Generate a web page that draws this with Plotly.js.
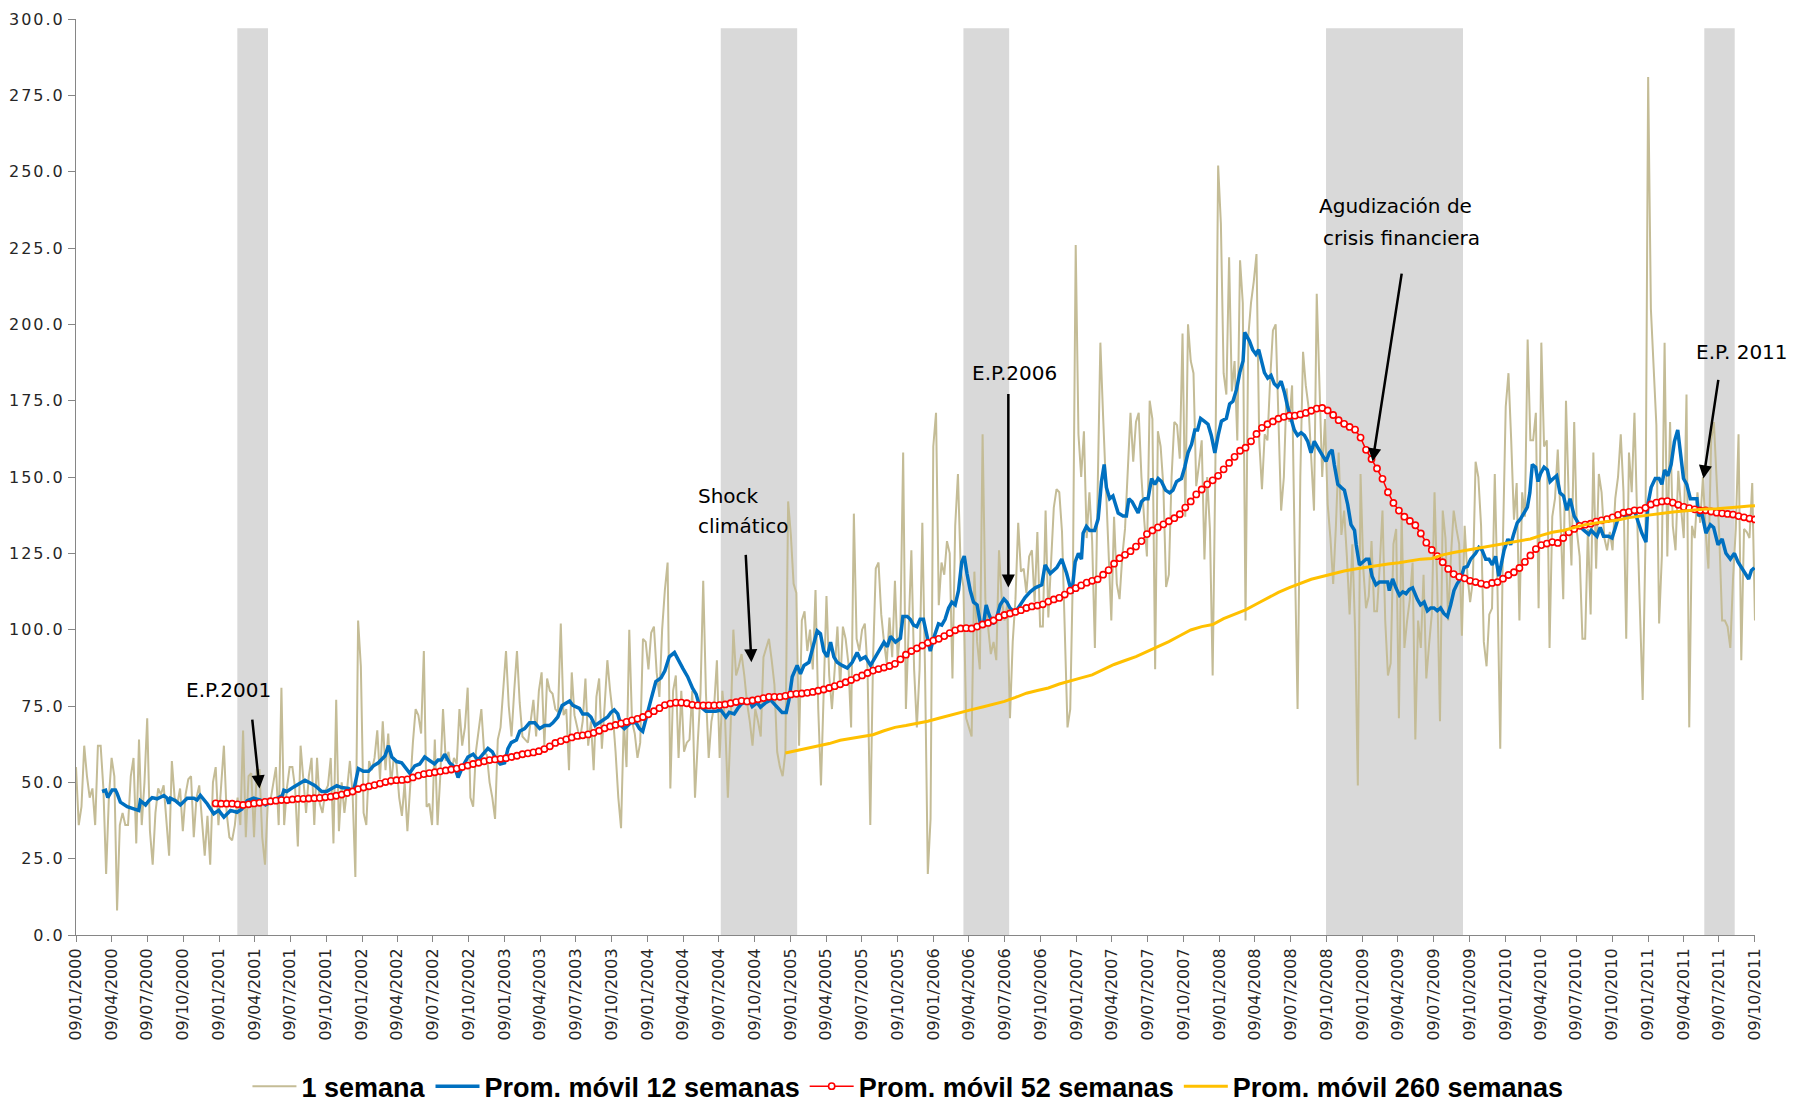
<!DOCTYPE html>
<html><head><meta charset="utf-8">
<script src="https://cdn.plot.ly/plotly-3.0.1.min.js"></script>
<style>
html,body{margin:0;padding:0;background:#fff}
#chart{width:1793px;height:1104px}
#chart .ytick text{letter-spacing:2px}
</style>
</head><body><div id="chart"></div>
<script>
// ---------- DATA ----------
const startDate = [2000, 0, 9]; // 09/01/2000, weekly observations
const lastWeek = 613;           // 09/10/2011

const seriesNames = ['1 semana', 'Prom. móvil 12 semanas', 'Prom. móvil 52 semanas', 'Prom. móvil 260 semanas'];

// weekly values (week 0 .. 613)
const weekly = [
55,36,42,62,52,45,48,36,62,62,
48,20,45,58,52,8,36,40,36,36,
52,58,30,64,36,50,71,34,23,40,
48,46,49,38,26,57,45,43,48,34,
46,51,52,32,45,49,38,26,39,23,
50,55,36,50,62,40,32,31,36,45,
36,67,32,52,53,32,54,54,32,23,
43,44,49,55,36,81,36,48,55,55,
48,29,62,50,40,52,58,36,58,43,
40,47,49,58,30,77,34,50,40,48,
57,46,19,103,88,40,36,57,54,58,
67,51,70,54,66,49,58,56,45,39,
50,34,50,63,74,72,66,93,42,43,
36,64,36,52,74,57,60,53,58,56,
74,62,68,81,45,42,60,68,74,60,
59,50,45,38,64,68,80,93,75,65,
80,93,76,65,64,63,70,77,65,80,
86,62,84,80,79,74,73,102,72,74,
54,86,72,68,64,70,84,62,70,54,
78,84,61,75,90,80,72,60,45,35,
70,55,100,70,66,58,63,97,96,87,
99,101,86,78,100,113,122,48,80,85,
58,80,60,63,64,80,45,63,79,116,
79,58,70,75,90,58,80,70,45,68,
100,85,88,92,85,76,70,62,74,70,
65,91,94,97,90,82,60,55,52,60,
142,131,115,112,62,103,106,93,100,87,
113,74,49,82,111,85,74,87,101,81,
101,97,89,68,138,97,93,100,102,87,
36,90,120,122,105,96,89,104,91,116,
90,101,158,74,100,126,87,68,87,135,
86,20,38,160,171,108,122,118,129,125,
84,134,151,120,114,71,68,65,119,96,
87,164,110,102,92,96,90,126,110,103,
108,71,96,110,135,119,120,112,124,126,
109,132,101,101,139,104,120,140,146,145,
132,103,68,74,120,226,164,150,165,130,
145,129,94,145,194,170,148,128,103,137,
115,110,124,133,150,171,155,168,171,150,
136,124,175,169,87,165,160,147,114,118,
150,168,167,156,197,137,200,188,184,147,
154,162,123,150,133,85,154,252,233,184,
177,222,178,188,162,221,207,103,196,207,
214,223,162,146,164,162,182,198,200,173,
139,150,179,168,180,124,74,150,191,180,
173,156,139,210,177,150,169,141,130,115,
134,158,131,139,124,105,128,100,49,151,
120,107,111,129,106,106,121,139,103,85,
89,128,133,71,138,94,103,110,122,64,
103,94,118,84,95,105,145,114,70,139,
130,103,124,139,133,128,98,134,118,109,
116,155,150,134,96,88,105,107,151,113,
61,130,173,184,162,136,148,103,145,137,
195,162,162,171,107,194,160,162,94,137,
143,159,137,110,175,143,121,168,132,124,
97,97,133,105,158,120,151,145,130,126,
132,126,143,150,164,145,97,158,145,171,
136,105,77,128,281,205,184,167,102,124,
194,124,168,134,126,152,140,130,177,68,
134,130,145,135,150,132,120,162,168,150,
130,103,103,101,94,117,133,164,90,133,
132,130,148,103
];

// 12-week moving average, read as [week, value]
const ma12Pairs = [
[9.5,47.0],[10.8,47.4],[11.6,45.0],[13.2,47.5],[14.4,47.5],[15.0,46.4],[16.2,43.5],[18.7,42.0],[21.1,41.3],[22.9,40.8],
[23.5,44.0],[25.4,42.6],[26.6,44.0],[27.8,45.0],[29.6,44.6],[32.1,45.7],[33.3,44.8],[33.9,43.0],[34.5,44.8],[36.3,44.0],
[38.1,42.6],[40.6,44.8],[43.0,44.8],[44.2,44.2],[45.4,45.7],[47.9,43.0],[50.3,39.7],[52.1,40.8],[54.0,38.6],[56.4,40.8],
[58.8,40.2],[60.6,41.3],[62.5,44.0],[64.9,44.8],[67.3,44.2],[69.2,42.6],[71.0,43.5],[73.4,44.8],[75.3,45.7],[75.9,47.4],
[77.0,47.0],[79.5,48.5],[81.3,49.6],[83.6,50.7],[85.5,49.8],[87.3,48.9],[89.7,47.0],[91.5,47.0],[93.4,48.0],[95.2,48.9],
[97.0,48.3],[99.5,48.0],[101.3,47.0],[103.1,54.5],[104.9,53.6],[106.8,53.6],[108.6,55.4],[110.4,56.4],[112.8,58.6],[114.1,62.0],
[115.3,58.3],[117.1,56.8],[118.9,56.4],[120.7,54.1],[121.8,53.0],[123.7,55.4],[125.5,56.0],[127.3,58.3],[129.1,57.3],[130.9,56.0],
[132.2,57.3],[133.4,57.3],[134.6,59.2],[136.4,56.4],[138.3,54.9],[139.5,51.6],[141.3,55.4],[143.1,58.3],[145.0,59.2],[146.8,57.3],
[148.6,59.2],[150.4,61.1],[152.0,60.0],[153.5,57.3],[154.9,56.0],[156.5,56.4],[157.7,61.0],[158.9,63.0],[160.8,63.9],[162.0,66.7],
[163.8,67.6],[165.6,69.5],[167.5,69.5],[169.3,67.6],[171.1,68.6],[172.9,68.6],[174.1,69.5],[175.9,71.4],[177.5,75.2],[179.0,76.1],
[180.2,76.6],[181.4,75.2],[183.8,74.2],[185.0,72.4],[186.8,72.4],[188.0,71.4],[189.5,68.6],[191.0,69.5],[192.9,70.5],[194.1,71.4],
[195.3,72.9],[196.5,73.7],[197.8,72.4],[199.0,68.6],[200.2,67.6],[201.4,68.6],[202.6,69.5],[204.5,69.5],[205.7,67.6],[206.9,66.7],
[208.1,70.5],[209.9,77.0],[211.7,83.0],[213.6,84.2],[215.0,86.5],[216.6,91.1],[218.5,92.5],[219.7,90.2],[221.5,87.4],[223.3,84.6],
[225.1,80.8],[226.4,78.9],[227.6,75.2],[228.8,74.2],[230.0,73.3],[231.8,73.3],[233.6,73.3],[235.4,73.7],[237.3,71.4],[238.5,72.9],
[240.3,72.4],[241.6,74.2],[242.8,75.6],[245.7,77.0],[246.9,74.8],[248.7,76.1],[249.9,74.6],[251.8,76.1],[253.6,77.0],[255.4,75.2],
[257.8,72.9],[259.3,72.9],[260.3,77.0],[261.5,84.6],[263.3,88.3],[264.5,85.5],[265.8,88.3],[267.6,89.3],[269.0,94.0],[270.6,99.6],
[271.8,98.7],[273.0,93.0],[274.3,91.1],[275.5,95.9],[276.7,91.1],[277.9,89.3],[279.7,88.3],[281.6,87.4],[283.4,89.3],[285.2,92.5],
[286.4,90.2],[288.2,91.1],[290.1,88.3],[291.9,91.1],[293.8,94.0],[295.0,95.9],[296.2,94.4],[297.4,97.8],[299.2,95.9],[301.0,97.2],
[301.9,104.3],[303.5,104.3],[304.6,103.4],[305.8,101.5],[307.0,101.0],[308.2,103.4],[309.4,103.4],[310.6,97.7],[311.9,93.0],[313.3,97.7],
[314.9,101.9],[316.1,101.5],[317.3,103.4],[318.6,107.1],[319.8,109.0],[321.0,108.1],[322.2,112.8],[323.4,122.2],[324.3,124.1],[325.3,118.4],
[326.5,112.8],[327.7,109.0],[329.0,108.1],[330.1,102.4],[331.3,101.5],[332.3,108.1],[333.2,105.3],[334.7,101.9],[336.0,103.4],[337.4,108.1],
[338.8,110.0],[339.9,109.0],[341.0,107.1],[342.9,105.6],[344.7,108.1],[346.5,110.5],[348.4,112.4],[350.2,113.7],[352.6,114.7],[353.8,121.2],
[355.7,118.4],[358.1,120.3],[359.9,123.1],[361.7,118.4],[363.6,111.8],[364.8,122.2],[366.0,125.0],[367.1,123.1],[367.7,131.6],[368.9,133.8],
[370.1,132.5],[371.9,132.5],[373.2,136.3],[374.4,148.5],[375.4,154.1],[376.2,146.6],[377.4,142.9],[378.6,143.8],[380.5,138.2],[382.3,137.2],
[383.5,137.2],[384.4,142.9],[385.6,141.9],[386.6,140.1],[387.8,138.2],[389.0,141.9],[390.2,142.9],[391.4,142.9],[392.7,149.5],[393.9,147.6],
[395.1,149.5],[396.3,148.5],[397.8,145.7],[399.3,144.8],[400.5,145.7],[401.8,148.5],[403.6,149.5],[404.8,153.2],[406.0,157.9],[407.3,160.7],
[408.5,165.4],[409.5,165.4],[410.6,169.2],[411.9,168.3],[413.3,167.3],[414.5,163.6],[415.8,157.9],[417.0,163.6],[418.2,168.3],[420.0,169.2],
[421.2,173.9],[422.4,174.8],[423.7,178.6],[424.9,184.2],[426.1,188.0],[426.7,197.4],[428.4,194.6],[429.6,191.7],[430.8,190.2],[431.8,191.7],
[432.7,188.9],[433.9,184.2],[435.1,182.4],[436.3,183.3],[437.5,180.5],[438.7,179.5],[440.0,181.4],[441.2,177.7],[442.4,172.9],[443.6,169.2],
[444.8,165.4],[446.0,163.6],[447.3,164.5],[448.5,163.6],[449.7,161.7],[450.9,157.9],[452.1,161.7],[453.3,159.8],[454.6,157.9],[456.4,155.1],
[457.6,157.9],[458.6,158.9],[459.4,154.1],[460.7,147.6],[461.9,146.6],[463.1,145.7],[464.3,141.0],[465.5,134.4],[466.8,132.5],[467.4,127.8],
[468.6,121.2],[469.8,122.2],[471.0,123.1],[472.0,123.1],[473.2,117.5],[474.6,114.7],[475.9,115.6],[477.7,115.6],[478.9,115.6],[479.5,112.8],
[480.7,116.6],[481.9,113.7],[483.2,111.3],[484.4,112.4],[485.6,111.8],[486.8,113.2],[488.0,113.7],[489.7,110.0],[490.9,108.1],[492.2,109.0],
[493.4,106.2],[494.6,107.1],[495.8,107.1],[497.0,106.2],[498.2,107.1],[499.4,105.3],[500.7,104.3],[501.9,108.1],[503.1,112.8],[504.3,115.1],
[505.5,116.6],[506.8,120.3],[508.0,120.7],[509.2,123.1],[511.0,125.0],[512.2,126.9],[513.4,126.0],[514.7,123.1],[515.9,123.1],[517.1,121.2],
[518.3,124.0],[519.5,117.5],[520.4,121.2],[521.4,126.0],[522.8,129.7],[523.8,127.8],[525.0,131.6],[526.2,135.0],[527.4,136.3],[528.7,138.2],
[529.9,140.1],[530.8,144.8],[531.7,154.1],[532.9,153.2],[533.8,148.5],[534.8,151.3],[536.0,153.2],[537.2,152.3],[538.2,148.5],[539.4,149.5],
[540.6,150.4],[541.8,144.8],[543.1,143.8],[544.3,139.1],[545.5,142.9],[547.0,137.2],[548.2,135.4],[549.4,133.5],[550.6,132.5],[552.3,131.2],
[553.2,132.5],[554.1,131.6],[555.3,130.6],[556.5,133.5],[557.7,130.6],[559.5,130.6],[560.8,130.0],[561.7,132.5],[563.0,136.3],[564.2,138.2],
[565.4,137.2],[566.6,137.2],[567.8,138.2],[569.0,139.1],[570.3,135.4],[571.7,131.6],[573.2,128.7],[573.9,141.0],[575.1,146.6],[576.6,149.5],
[578.0,149.5],[579.0,147.6],[580.0,152.3],[581.2,150.4],[582.4,154.1],[583.6,161.7],[584.8,165.4],[585.8,157.9],[586.9,149.5],[588.1,147.6],
[589.4,142.9],[590.6,142.9],[591.8,142.9],[592.4,137.2],[593.6,138.2],[595.1,131.6],[596.7,134.4],[597.9,133.5],[599.5,127.8],[601.0,129.7],
[602.4,125.0],[604.0,123.1],[605.5,125.0],[606.8,122.2],[608.0,120.3],[609.5,118.4],[610.7,116.6],[611.7,119.4],[612.8,120.3]
];

// 52-week moving average, every second week from week 51
const ma52FirstWeek = 51, ma52Step = 2;
const ma52 = [
43.1,43.0,43.0,43.0,42.8,42.6,42.8,43.1,43.3,43.6,
43.8,44.0,44.2,44.2,44.4,44.6,44.6,44.7,44.8,44.9,
45.1,45.3,45.6,46.0,46.5,47.0,47.8,48.3,48.7,49.1,
49.6,50.1,50.5,50.7,50.8,51.0,51.6,52.2,52.7,53.0,
53.3,53.6,53.9,54.2,54.5,55.0,55.5,56.0,56.4,56.9,
57.3,57.5,57.7,57.9,58.3,58.7,59.2,59.5,59.8,60.2,
60.9,61.8,62.9,63.5,64.1,64.7,65.2,65.4,65.7,66.2,
66.9,67.7,68.3,68.8,69.3,69.8,70.3,70.8,71.4,72.3,
73.3,74.3,75.3,75.8,76.1,76.1,75.9,75.4,75.2,75.2,
75.2,75.2,75.3,75.5,75.9,76.3,76.7,76.5,76.8,77.2,
77.6,78.0,78.0,78.0,78.3,78.8,79.0,79.1,79.3,79.6,
80.0,80.4,80.9,81.5,82.1,82.8,83.5,84.3,85.0,85.8,
86.6,87.1,87.6,88.1,88.8,90.3,91.8,93.0,93.9,94.8,
95.7,96.4,97.0,97.9,98.9,99.8,100.4,100.5,100.4,101.0,
101.7,102.2,103.0,104.1,104.8,105.3,105.8,106.4,107.1,107.6,
107.9,108.3,109.2,109.9,110.4,111.5,112.8,113.6,114.5,115.4,
116.0,116.5,118.0,119.5,121.6,123.4,124.5,125.7,127.2,129.0,
131.3,132.5,133.5,134.5,135.5,136.5,137.8,140.0,142.0,144.3,
145.9,147.6,148.9,150.4,152.5,154.6,156.6,158.6,159.6,161.7,
164.1,166.1,167.3,168.2,169.1,169.7,170.1,170.1,170.5,171.0,
171.7,172.4,172.6,171.8,170.3,168.6,167.4,166.4,165.5,162.9,
158.9,155.9,152.8,149.4,145.0,141.5,139.0,137.0,135.6,134.2,
131.5,128.5,126.1,124.1,122.1,119.9,118.2,117.3,116.8,116.0,
115.6,115.1,114.7,115.3,115.6,116.7,117.9,118.8,120.2,122.2,
124.3,126.4,127.7,128.2,128.7,128.4,130.0,131.9,133.0,134.0,
134.4,134.7,135.4,135.8,136.2,136.8,137.6,138.3,138.6,139.1,
139.1,139.9,141.0,141.6,142.0,142.1,141.6,140.9,140.2,139.8,
139.4,139.1,139.1,138.7,138.3,138.1,137.9,137.7,137.2,136.8,
136.4,136.1
];

// 260-week moving average, every fourth week from week 259 (last point at week 613)
const ma260FirstWeek = 259, ma260Step = 4;
const ma260 = [
59.6,60.4,61.0,61.8,62.7,63.8,64.4,65.0,65.6,66.9,
68.0,68.6,69.2,70.0,71.0,72.0,72.9,73.8,74.7,75.6,
76.5,77.8,79.2,80.1,80.9,82.2,83.3,84.2,85.2,86.9,
88.6,89.9,91.2,92.8,94.4,96.1,98.0,99.9,101.0,101.7,
103.6,105.1,106.5,108.4,110.4,112.2,113.8,115.2,116.5,117.4,
118.4,119.2,119.9,120.5,121.1,121.5,121.9,122.6,123.1,123.3,
124.5,125.3,125.9,126.6,127.2,127.8,128.4,129.0,129.7,130.9,
131.9,132.5,133.4,134.4,134.9,135.4,135.9,136.7,137.2,137.7,
138.1,138.5,138.9,139.3,139.5,139.6,140.0,140.2,140.5,140.6
];

// shaded periods (in weeks from start)
const bandStartWeeks = [58.9, 235.4, 324.0, 456.4, 594.5];
const bandEndWeeks   = [70.1, 263.3, 340.7, 506.4, 605.6];
const bandTop = 297;

// text notes: [text, week, value, anchor]
const noteTexts = [
  ['E.P.2001', 55.5, 80.2, 'center'],
  ['Shock', 226.3, 143.8, 'left'],
  ['climático', 226.3, 133.8, 'left'],
  ['E.P.2006', 342.7, 184.2, 'center'],
  ['Agudización de', 481.6, 238.8, 'center'],
  ['crisis financiera', 484.1, 228.4, 'center'],
  ['E.P. 2011', 590.6, 190.8, 'left']
];
// arrows: [tailWeek, tailValue, tipWeek, tipValue]
const noteArrows = [
  [64.3, 71.0, 67.0, 48.0],
  [244.5, 125.0, 246.6, 89.3],
  [340.4, 177.7, 340.4, 113.8],
  [484.1, 217.1, 473.4, 155.1],
  [599.7, 182.3, 594.2, 149.5]
];

// ---------- DRAW ----------
const t0 = Date.UTC(startDate[0], startDate[1], startDate[2]);
function wk(w) {
  return new Date(t0 + w * 7 * 86400000).toISOString().slice(0, 19).replace('T', ' ');
}

const tickFont = {family: 'DejaVu Sans, sans-serif', size: 16, color: '#262626'};
const axisGray = '#868686';

const traces = [
  {
    name: seriesNames[0], type: 'scatter', mode: 'lines',
    x: weekly.map((_, i) => wk(i)), y: weekly,
    line: {color: '#c4bc96', width: 2}
  },
  {
    name: seriesNames[1], type: 'scatter', mode: 'lines',
    x: ma12Pairs.map(p => wk(p[0])), y: ma12Pairs.map(p => p[1]),
    line: {color: '#0070c0', width: 3.5}
  },
  {
    name: seriesNames[2], type: 'scatter', mode: 'lines+markers',
    x: ma52.map((_, k) => wk(ma52FirstWeek + ma52Step * k)), y: ma52,
    line: {color: '#ff0000', width: 1.5},
    marker: {symbol: 'circle', size: 6.2, color: '#ffffff', line: {color: '#ff0000', width: 1.6}}
  },
  {
    name: seriesNames[3], type: 'scatter', mode: 'lines',
    x: ma260.map((_, k) => wk(Math.min(ma260FirstWeek + ma260Step * k, lastWeek))), y: ma260,
    line: {color: '#ffc000', width: 3}
  }
];

const shapes = bandStartWeeks.map((s, k) => ({
  type: 'rect', xref: 'x', yref: 'y',
  x0: wk(s), x1: wk(bandEndWeeks[k]), y0: 0, y1: bandTop,
  fillcolor: '#d9d9d9', line: {width: 0}, layer: 'below'
}));

const noteFont = {family: 'DejaVu Sans, sans-serif', size: 20, color: '#000000'};
const annotations = noteTexts.map(n => ({
  text: n[0], x: wk(n[1]), y: n[2], xref: 'x', yref: 'y',
  xanchor: n[3], yanchor: 'middle', showarrow: false, font: noteFont
})).concat(noteArrows.map(a => ({
  text: '', x: wk(a[2]), y: a[3], ax: wk(a[0]), ay: a[1],
  xref: 'x', yref: 'y', axref: 'x', ayref: 'y',
  showarrow: true, arrowhead: 2, arrowsize: 1.05, arrowwidth: 2.5, arrowcolor: '#000000',
  standoff: 0, startstandoff: 0
})));

const layout = {
  width: 1793, height: 1104,
  paper_bgcolor: '#ffffff', plot_bgcolor: '#ffffff',
  margin: {l: 76, r: 38, t: 19, b: 169, pad: 0, autoexpand: false},
  showlegend: true,
  legend: {
    orientation: 'h', x: 0.4955, xanchor: 'center', y: -0.1655, yanchor: 'middle',
    font: {family: 'Liberation Sans, Arial, sans-serif', size: 27, color: '#000000', weight: 'bold'},
    itemwidth: 44, bgcolor: 'rgba(0,0,0,0)'
  },
  xaxis: {
    type: 'date', automargin: false,
    range: [wk(0), wk(lastWeek + 0.01)],
    tick0: wk(0), dtick: 'M3', tickformat: '%d/%m/%Y', tickangle: -90,
    ticks: 'outside', ticklen: 6, tickcolor: axisGray, tickwidth: 1,
    showline: true, linecolor: axisGray, linewidth: 1,
    showgrid: false, zeroline: false, tickfont: tickFont
  },
  yaxis: {
    range: [0, 300], tick0: 0, dtick: 25, tickformat: '.1f', automargin: false,
    ticks: 'outside', ticklen: 7, tickcolor: axisGray, tickwidth: 1,
    showline: true, linecolor: axisGray, linewidth: 1,
    showgrid: false, zeroline: false, tickfont: tickFont
  },
  shapes: shapes,
  annotations: annotations
};

Plotly.newPlot('chart', traces, layout, {staticPlot: true, displayModeBar: false});
</script>
</body></html>
